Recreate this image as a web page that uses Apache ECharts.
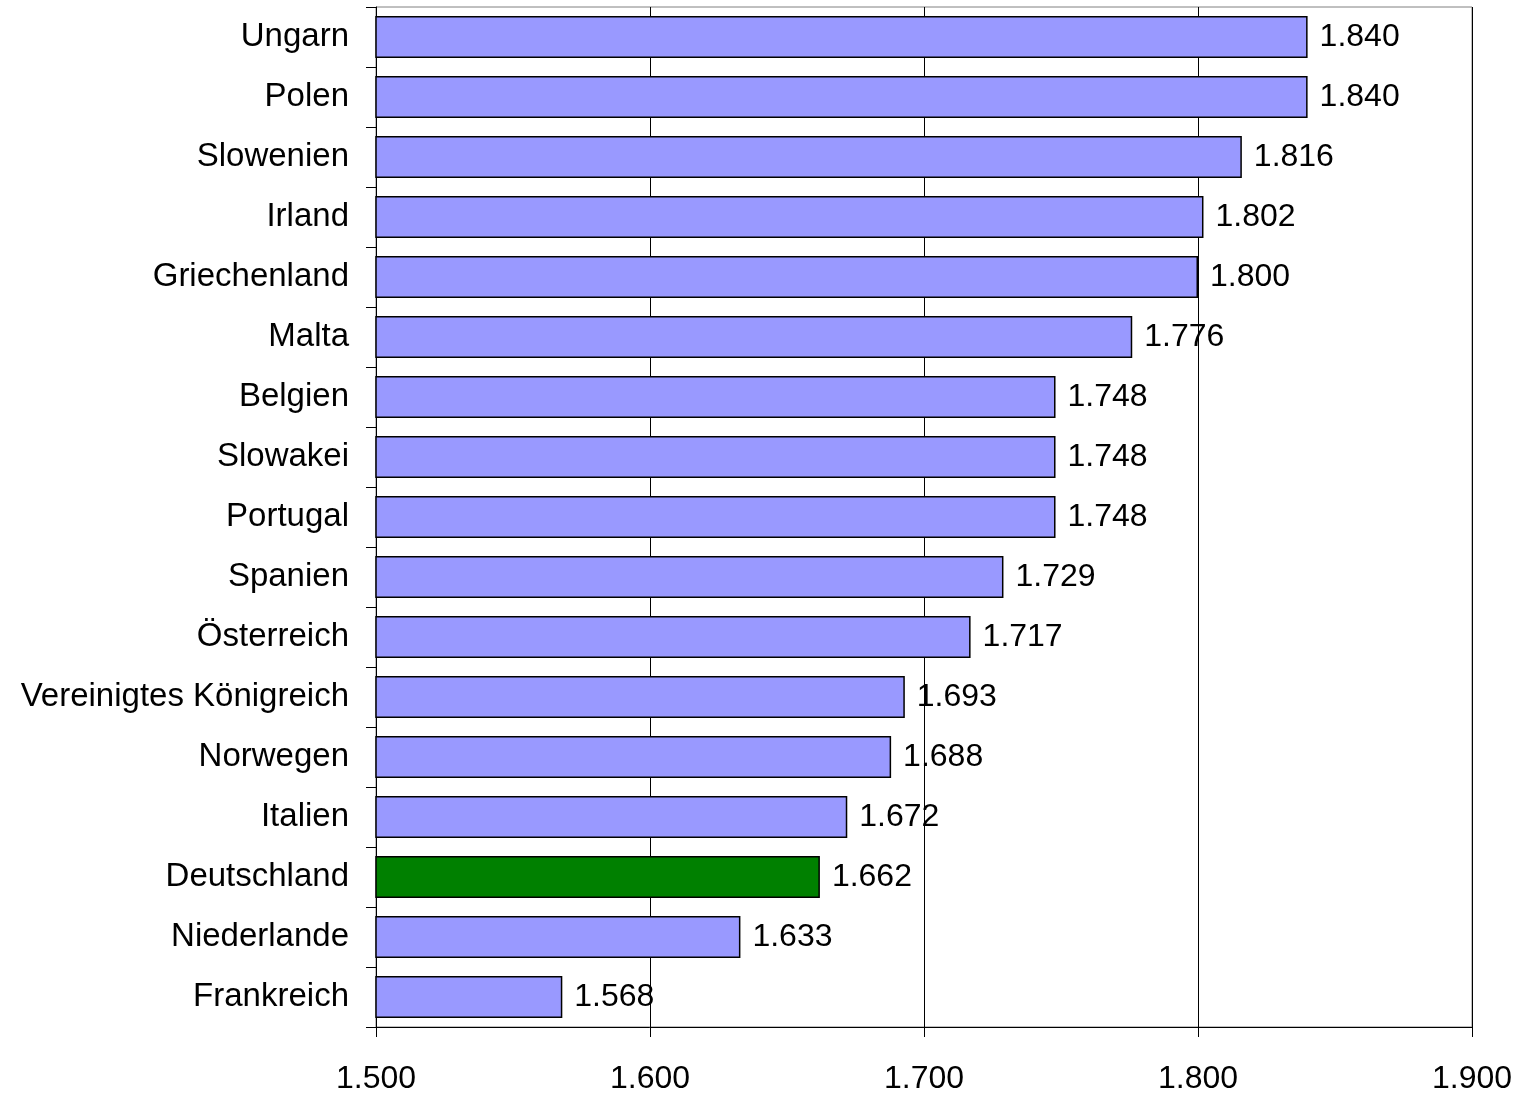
<!DOCTYPE html>
<html>
<head>
<meta charset="utf-8">
<script src="https://cdn.jsdelivr.net/npm/echarts@6/dist/echarts.min.js"></script>
<style>
html,body{margin:0;padding:0;background:#fff;}
#chart{width:1522px;height:1095px;}
</style>
</head>
<body>
<div id="chart"></div>
<script>
const categories = ["Ungarn","Polen","Slowenien","Irland","Griechenland","Malta","Belgien","Slowakei","Portugal","Spanien","Österreich","Vereinigtes Königreich","Norwegen","Italien","Deutschland","Niederlande","Frankreich"];
const values = [1840,1840,1816,1802,1800,1776,1748,1748,1748,1729,1717,1693,1688,1672,1662,1633,1568];
const highlight = "Deutschland";
const xTicks = [1500,1600,1700,1800,1900];

function fmt(v){
  const s = String(Math.round(v));
  return s.replace(/\B(?=(\d{3})+(?!\d))/g, ".");
}

const FONT = '"Liberation Sans", Arial, sans-serif';
const chart = echarts.init(document.getElementById('chart'), null, {renderer:'canvas'});
chart.setOption({
  animation:false,
  backgroundColor:'#ffffff',
  grid:{left:376, right:50, top:7, bottom:67, show:true, borderColor:'#808080', borderWidth:1, backgroundColor:'transparent'},
  xAxis:{
    type:'value', min:xTicks[0], max:xTicks[xTicks.length-1], interval:100,
    axisLine:{show:true, lineStyle:{color:'#000', width:1}},
    axisTick:{show:true, inside:false, length:10, lineStyle:{color:'#000'}},
    splitLine:{show:true, lineStyle:{color:'#000', width:1}},
    axisLabel:{color:'#000', fontSize:32, fontFamily:FONT, margin:36, formatter:fmt}
  },
  yAxis:{
    type:'category', data:categories, inverse:true,
    axisLine:{show:true, lineStyle:{color:'#000', width:1}},
    axisTick:{show:true, length:10, lineStyle:{color:'#000'}},
    axisLabel:{color:'#000', fontSize:33, fontFamily:FONT, margin:27, padding:[3,0,0,0]}
  },
  series:[{
    type:'bar',
    barCategoryGap:'30%',
    data: values.map((v,i)=>({value:v, itemStyle:{color: categories[i]===highlight ? '#008000' : '#9999FF'}})),
    itemStyle:{borderColor:'#000', borderWidth:1.5},
    label:{show:true, position:'right', distance:12, color:'#000', fontSize:32, fontFamily:FONT, formatter:p=>fmt(p.value)}
  }]
});
</script>
</body>
</html>
